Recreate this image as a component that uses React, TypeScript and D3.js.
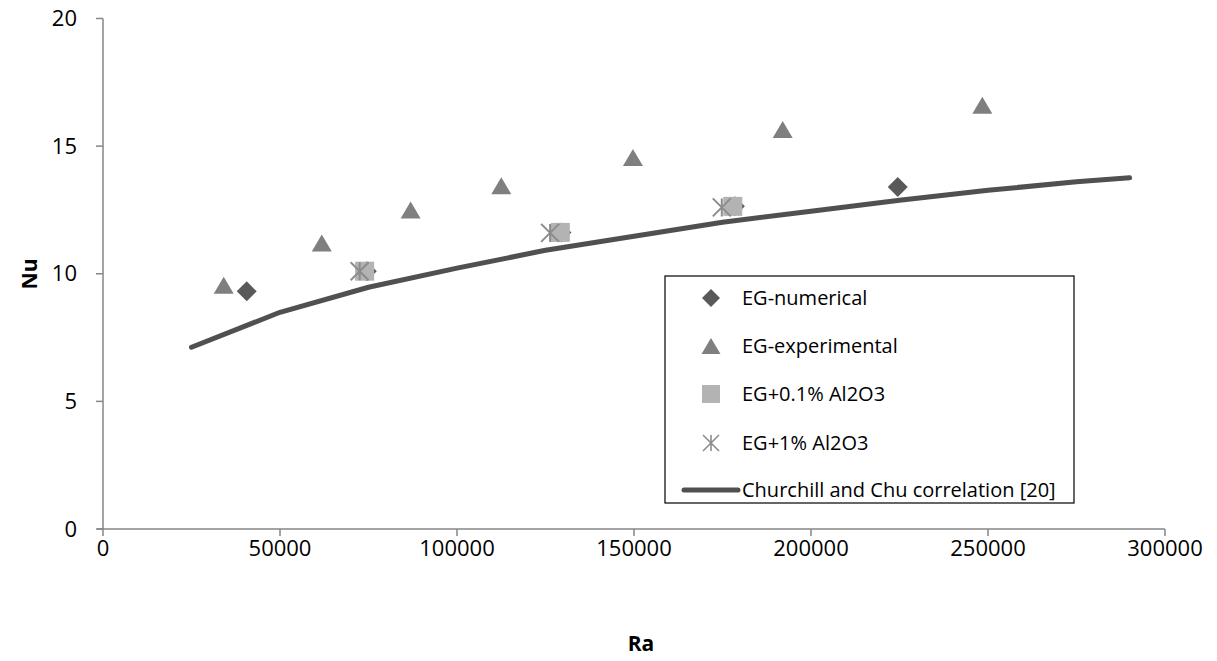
import React from "react";
import * as d3 from "d3";

const xTicks = [0, 50000, 100000, 150000, 200000, 250000, 300000];
const yTicks = [0, 5, 10, 15, 20];

const numRa = [40600, 74500, 129500, 178500, 224500];
const numNu = [9.31, 10.1, 11.62, 12.64, 13.4];

const expRa = [34100, 61800, 86900, 112500, 149700, 192000, 248400];
const expNu = [9.55, 11.2, 12.5, 13.45, 14.55, 15.65, 16.6];

const al01Ra = [73900, 129200, 177900];
const al01Nu = [10.1, 11.62, 12.64];

const al1Ra = [72500, 126300, 174800];
const al1Nu = [10.1, 11.6, 12.6];

const ccRa = [25000, 50000, 75000, 100000, 125000, 150000, 175000, 200000, 225000, 250000, 275000, 290000];
const ccNu = [7.12, 8.49, 9.47, 10.22, 10.92, 11.47, 12.02, 12.45, 12.88, 13.27, 13.6, 13.76];

const legendLabels = [
  "EG-numerical",
  "EG-experimental",
  "EG+0.1% Al2O3",
  "EG+1% Al2O3",
  "Churchill and Chu correlation [20]",
];

const FONT = "'Open Sans', sans-serif";
const AXIS = "#868686";
const C_DIAMOND = "#595959";
const C_TRI = "#7f7f7f";
const C_SQ = "#b3b3b3";
const C_STAR = "#8c8c8c";
const C_LINE = "#505050";

const diamond = (cx: number, cy: number, r = 10) =>
  `M${cx},${cy - r}L${cx + r},${cy}L${cx},${cy + r}L${cx - r},${cy}Z`;
const triangle = (cx: number, cy: number, w = 20, h = 17) =>
  `M${cx},${cy - h / 2}L${cx + w / 2},${cy + h / 2}L${cx - w / 2},${cy + h / 2}Z`;
const square = (cx: number, cy: number, s = 19) =>
  `M${cx - s / 2},${cy - s / 2}h${s}v${s}h${-s}Z`;
const star = (cx: number, cy: number, r = 9) =>
  `M${cx - r},${cy - r}L${cx + r},${cy + r}M${cx - r},${cy + r}L${cx + r},${cy - r}M${cx},${cy - r}L${cx},${cy + r}`;

export default function App() {
  const x = d3.scaleLinear().domain([0, 300000]).range([103, 1165]);
  const y = d3.scaleLinear().domain([0, 20]).range([529, 18.5]);

  const line = d3
    .line<number>()
    .x((_, i) => x(ccRa[i]))
    .y((d) => y(d));

  const legX = 665;
  const legY = 276;
  const legW = 409;
  const legH = 227;
  const rowY = [298, 346, 394, 443, 490];
  const mX = 711;
  const tX = 742;

  return (
    <svg
      width={1217}
      height={661}
      style={{ position: "absolute", left: 0, top: 0, background: "#fff" }}
      fontFamily={FONT}
    >
      <rect x={0} y={0} width={1217} height={661} fill="#fff" />
      {/* axes */}
      <line x1={103} x2={103} y1={y(20)} y2={y(0)} stroke={AXIS} strokeWidth={1.5} />
      <line x1={97} x2={x(300000)} y1={y(0)} y2={y(0)} stroke={AXIS} strokeWidth={1.5} />
      {yTicks.map((t) => (
        <g key={"y" + t}>
          <line x1={96} x2={103} y1={y(t)} y2={y(t)} stroke={AXIS} strokeWidth={1.5} />
          <text x={77} y={y(t)} dy="0.35em" textAnchor="end" fontSize={22} fill="#000">
            {t}
          </text>
        </g>
      ))}
      {xTicks.map((t) => (
        <g key={"x" + t}>
          <line x1={x(t)} x2={x(t)} y1={y(0)} y2={y(0) + 7} stroke={AXIS} strokeWidth={1.5} />
          <text x={x(t)} y={556} textAnchor="middle" fontSize={22} fill="#000">
            {t}
          </text>
        </g>
      ))}
      <text
        transform={`translate(37,${274}) rotate(-90)`}
        textAnchor="middle"
        fontSize={21}
        fontWeight="bold"
      >
        Nu
      </text>
      <text x={641} y={651} textAnchor="middle" fontSize={21} fontWeight="bold">
        Ra
      </text>

      {/* series */}
      <path d={line(ccNu) || ""} fill="none" stroke={C_LINE} strokeWidth={5} strokeLinecap="round" strokeLinejoin="round" />
      {numNu.map((v, i) => (
        <path key={"n" + i} d={diamond(x(numRa[i]), y(v))} fill={C_DIAMOND} />
      ))}
      {expNu.map((v, i) => (
        <path key={"e" + i} d={triangle(x(expRa[i]), y(v))} fill={C_TRI} />
      ))}
      {al01Nu.map((v, i) => (
        <path key={"a" + i} d={square(x(al01Ra[i]), y(v))} fill={C_SQ} />
      ))}
      {al1Nu.map((v, i) => (
        <path key={"b" + i} d={star(x(al1Ra[i]), y(v))} stroke={C_STAR} strokeWidth={2} fill="none" />
      ))}

      {/* legend */}
      <rect x={legX} y={legY} width={legW} height={legH} fill="#fff" stroke="#000" strokeWidth={1.2} />
      <path d={diamond(mX, rowY[0], 9)} fill={C_DIAMOND} />
      <path d={triangle(mX, rowY[1], 19, 16)} fill={C_TRI} />
      <path d={square(mX, rowY[2], 18)} fill={C_SQ} />
      <path d={star(mX, rowY[3], 8)} stroke={C_STAR} strokeWidth={1.6} fill="none" />
      <line x1={684} x2={738} y1={rowY[4]} y2={rowY[4]} stroke={C_LINE} strokeWidth={5} strokeLinecap="round" />
      {legendLabels.map((l, i) => (
        <text key={l} x={tX} y={rowY[i]} dy="0.35em" fontSize={20} fill="#000">
          {l}
        </text>
      ))}
    </svg>
  );
}
